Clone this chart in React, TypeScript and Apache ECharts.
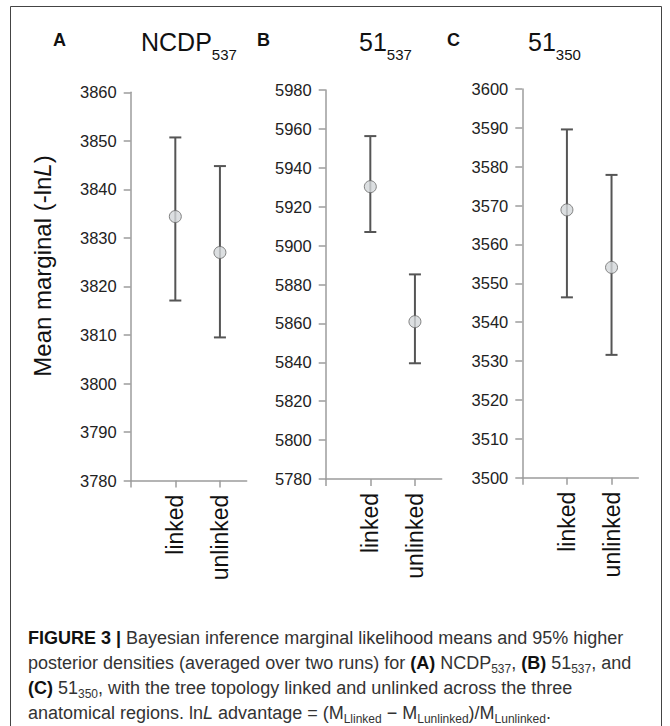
import React, { useEffect, useRef } from "react";
import * as echarts from "echarts";

const categories = ["linked", "unlinked"];
const panelLetters = ["A", "B", "C"];
const panelTitleMain = ["NCDP", "51", "51"];
const panelTitleSub = ["537", "537", "350"];

const meansA = [3834.4, 3827.0];
const lowA = [3817.1, 3809.5];
const highA = [3850.7, 3844.8];

const meansB = [5930.3, 5860.9];
const lowB = [5907.0, 5839.5];
const highB = [5956.3, 5885.2];

const meansC = [3568.9, 3554.1];
const lowC = [3546.4, 3531.6];
const highC = [3589.6, 3577.9];

const yMin = [3780, 5780, 3500];
const yMax = [3860, 5980, 3600];
const yInterval = [10, 20, 10];

const FONT = "'Liberation Sans', Arial, Helvetica, sans-serif";

export default function App() {
  const ref = useRef<HTMLDivElement>(null);
  useEffect(() => {
    if (!ref.current) return;
    const chart = echarts.init(ref.current, null, { renderer: "svg" });
    const means = [meansA, meansB, meansC];
    const lows = [lowA, lowB, lowC];
    const highs = [highA, highB, highC];
    const grids = [
      { left: 130.7, top: 92.3, width: 116, height: 388.3 },
      { left: 325.7, top: 90, width: 116, height: 389 },
      { left: 522.3, top: 89, width: 116, height: 388.7 },
    ];
    const axisColor = "#9c9c9c";
    const xAxes = grids.map((_, i) => ({
      type: "value",
      gridIndex: i,
      min: 0,
      max: 2.6,
      interval: 1,
      splitLine: { show: false },
      axisLine: { show: true, lineStyle: { color: axisColor, width: 1.5 } },
      axisTick: { show: true, length: 7, customValues: [0, 1, 2], lineStyle: { color: axisColor, width: 1.5 } },
      axisLabel: {
        show: true,
        customValues: [1, 2],
        rotate: 90,
        margin: 14,
        fontSize: 23,
        color: "#111",
        fontFamily: FONT,
        formatter: (v: number) => categories[Math.round(v) - 1] ?? "",
      },
    }));
    const yAxes = grids.map((_, i) => ({
      type: "value",
      gridIndex: i,
      min: yMin[i],
      max: yMax[i],
      interval: yInterval[i],
      splitLine: { show: false },
      axisLine: { show: true, lineStyle: { color: axisColor, width: 1.5 } },
      axisTick: { show: true, length: 7, lineStyle: { color: axisColor, width: 1.5 } },
      axisLabel: {
        margin: 14,
        fontSize: 16.5,
        color: "#222",
        fontFamily: FONT,
        formatter: (v: number) => String(Math.round(v)),
      },
    }));
    const series: any[] = [];
    grids.forEach((_, i) => {
      series.push({
        type: "custom",
        xAxisIndex: i,
        yAxisIndex: i,
        z: 2,
        encode: { x: 0, y: [1, 2] },
        data: categories.map((_, j) => [j + 1, lows[i][j], highs[i][j]]),
        renderItem: (params: any, api: any) => {
          const x = api.value(0);
          const lo = api.coord([x, api.value(1)]);
          const hi = api.coord([x, api.value(2)]);
          const cap = 6;
          const style = { stroke: "#555", lineWidth: 2 };
          return {
            type: "group",
            children: [
              { type: "line", shape: { x1: lo[0], y1: lo[1], x2: hi[0], y2: hi[1] }, style },
              { type: "line", shape: { x1: lo[0] - cap, y1: lo[1], x2: lo[0] + cap, y2: lo[1] }, style },
              { type: "line", shape: { x1: hi[0] - cap, y1: hi[1], x2: hi[0] + cap, y2: hi[1] }, style },
            ],
          };
        },
      });
      series.push({
        type: "scatter",
        xAxisIndex: i,
        yAxisIndex: i,
        z: 5,
        symbol: "circle",
        symbolSize: 12,
        itemStyle: { color: "#d3d7d9", borderColor: "#666", borderWidth: 1 },
        data: categories.map((_, j) => [j + 1, means[i][j]]),
      });
    });

    const letterX = [53, 257, 447];
    const titleX = [141, 359, 528];
    const graphics: any[] = [
      {
        type: "rect",
        shape: { x: 10.5, y: 6.5, width: 651, height: 760 },
        style: { fill: "none", stroke: "#444", lineWidth: 1 },
        silent: true,
      },
      {
        type: "text",
        x: 42,
        y: 266,
        rotation: Math.PI / 2,
        style: {
          text: "{n|Mean marginal (-ln}{i|L}{n|)}",
          align: "center",
          verticalAlign: "middle",
          rich: {
            n: { fontSize: 24, fontFamily: FONT, fill: "#111" },
            i: { fontSize: 24, fontFamily: FONT, fontStyle: "italic", fill: "#111" },
          },
        },
      },
    ];
    panelLetters.forEach((l, i) => {
      graphics.push({
        type: "text",
        x: letterX[i],
        y: 40,
        style: {
          text: l,
          fontSize: 18,
          fontWeight: "bold",
          fontFamily: FONT,
          fill: "#111",
          align: "left",
          verticalAlign: "middle",
        },
      });
      graphics.push({
        type: "text",
        x: titleX[i],
        y: 21.5,
        style: {
          text: `{m|${panelTitleMain[i]}}{s|${panelTitleSub[i]}}`,
          align: "left",
          verticalAlign: "top",
          rich: {
            m: { fontSize: 25, lineHeight: 40, fontFamily: FONT, fill: "#111" },
            s: { fontSize: 15, lineHeight: 15, verticalAlign: "bottom", fontFamily: FONT, fill: "#111" },
          },
        },
      });
    });
    const cap =
      "{b|FIGURE 3 |}{n| Bayesian inference marginal likelihood means and 95% higher}\n" +
      "{n|posterior densities (averaged over two runs) for }{b|(A)}{n| NCDP}{s|537}{n|, }{b|(B)}{n| 51}{s|537}{n|, and}\n" +
      "{b|(C)}{n| 51}{s|350}{n|, with the tree topology linked and unlinked across the three}\n" +
      "{n|anatomical regions. ln}{i|L}{n| advantage = (M}{s|Llinked}{n| − M}{s|Lunlinked}{n|)/M}{s|Lunlinked}{n|.}";
    graphics.push({
      type: "text",
      x: 28,
      y: 625,
      style: {
        text: cap,
        align: "left",
        verticalAlign: "top",
        rich: {
          b: { fontSize: 18, lineHeight: 25, fontWeight: "bold", fontFamily: FONT, fill: "#111" },
          n: { fontSize: 18, lineHeight: 25, fontFamily: FONT, fill: "#333" },
          i: { fontSize: 18, lineHeight: 25, fontStyle: "italic", fontFamily: FONT, fill: "#333" },
          s: { fontSize: 12, lineHeight: 17, verticalAlign: "bottom", fontFamily: FONT, fill: "#333" },
        },
      },
    });

    chart.setOption({
      animation: false,
      backgroundColor: "#ffffff",
      grid: grids,
      xAxis: xAxes,
      yAxis: yAxes,
      series,
      graphic: graphics,
    });
    return () => chart.dispose();
  }, []);
  return (
    <div
      ref={ref}
      style={{ position: "fixed", left: 0, top: 0, width: 670, height: 726, background: "#fff" }}
    />
  );
}
